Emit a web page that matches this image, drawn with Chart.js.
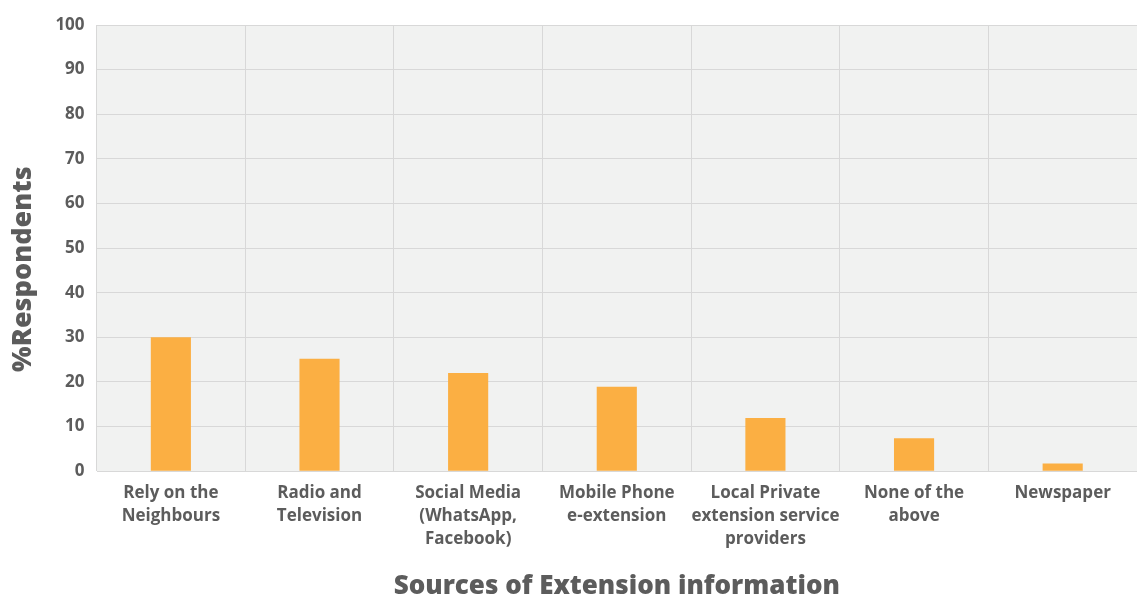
<!DOCTYPE html>
<html>
<head>
<meta charset="utf-8">
<script src="https://cdn.jsdelivr.net/npm/chart.js@4"></script>
<style>
  html, body { margin: 0; padding: 0; background: #fff; }
  #wrap { width: 1137px; height: 600px; }
</style>
</head>
<body>
<div id="wrap"><canvas id="sourcesChart" width="1137" height="600"></canvas></div>
<script>
const categories = [
    ['Rely on the', 'Neighbours'],
    ['Radio and', 'Television'],
    ['Social Media', '(WhatsApp,', 'Facebook)'],
    ['Mobile Phone', 'e-extension'],
    ['Local Private', 'extension service', 'providers'],
    ['None of the', 'above'],
    ['Newspaper']
];
const respondents = [30, 25.2, 22, 18.9, 11.9, 7.4, 1.7];

// fill the plot area with a light grey
const plotBackground = {
    id: 'plotBackground',
    beforeDraw(chart) {
        const a = chart.chartArea;
        const ctx = chart.ctx;
        ctx.save();
        ctx.fillStyle = '#f1f2f1';
        ctx.fillRect(a.left, a.top, a.right - a.left, a.bottom - a.top);
        ctx.restore();
    }
};

const textColor = '#5c5c5c';
const font = 'Open Sans';

new Chart(document.getElementById('sourcesChart'), {
    type: 'bar',
    data: {
        labels: categories,
        datasets: [{
            data: respondents,
            backgroundColor: '#fbaf43',
            borderWidth: 0,
            barPercentage: 0.27,
            categoryPercentage: 1
        }]
    },
    options: {
        responsive: false,
        animation: false,
        layout: { padding: { top: 25, right: 0, bottom: 0, left: 7 } },
        plugins: {
            legend: { display: false },
            tooltip: { enabled: false }
        },
        scales: {
            x: {
                grid: { color: '#d8d8d8', offset: true, drawTicks: false },
                border: { display: false },
                ticks: {
                    color: textColor,
                    font: { family: font, size: 17, weight: 'bold', lineHeight: 1.35 },
                    padding: 11,
                    maxRotation: 0,
                    autoSkip: false
                },
                title: {
                    display: true,
                    text: 'Sources of Extension information',
                    color: textColor,
                    font: { family: font, size: 26, weight: '800', lineHeight: 1 },
                    padding: { top: 12, bottom: 0 }
                }
            },
            y: {
                min: 0,
                max: 100,
                grid: { color: '#d8d8d8', drawTicks: false },
                border: { display: false },
                ticks: {
                    stepSize: 10,
                    color: textColor,
                    font: { family: font, size: 17, weight: 'bold' },
                    padding: 12
                },
                title: {
                    display: true,
                    // trailing spaces nudge the rotated title down, as in the original
                    text: '%Respondents      ',
                    color: textColor,
                    font: { family: font, size: 27, weight: '800' },
                    padding: { top: 0, bottom: 4 }
                }
            }
        }
    },
    plugins: [plotBackground]
});
</script>
</body>
</html>
